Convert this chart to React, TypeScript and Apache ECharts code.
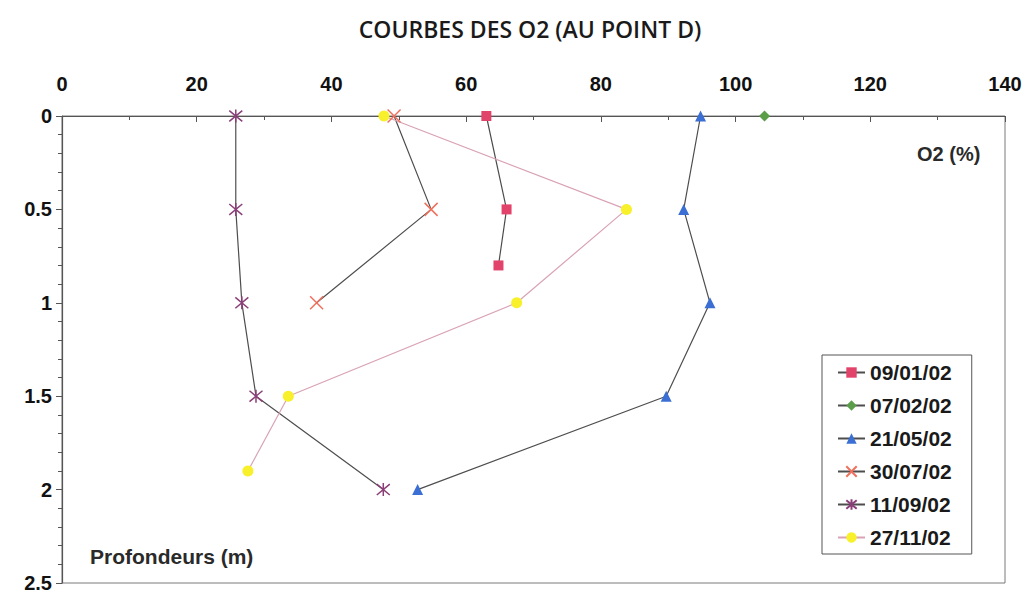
import React, { useEffect, useRef } from "react";
import * as echarts from "echarts";

// Depth profiles of dissolved oxygen (% saturation) at point D
const dates = ["09/01/02", "07/02/02", "21/05/02", "30/07/02", "11/09/02", "27/11/02"];

const depth0901 = [0, 0.5, 0.8];
const o2_0901 = [63, 66, 64.8];

const depth0702 = [0];
const o2_0702 = [104.3];

const depth2105 = [0, 0.5, 1, 1.5, 2];
const o2_2105 = [94.8, 92.3, 96.2, 89.7, 52.8];

const depth3007 = [0, 0.5, 1];
const o2_3007 = [49.3, 54.8, 37.8];

const depth1109 = [0, 0.5, 1, 1.5, 2];
const o2_1109 = [25.8, 25.8, 26.7, 28.8, 47.7];

const depth2711 = [0, 0.5, 1, 1.5, 1.9];
const o2_2711 = [47.8, 83.8, 67.5, 33.6, 27.6];

const xTicks = { min: 0, max: 140, interval: 20 };
const yTicks = { min: 0, max: 2.5, interval: 0.5 };

const pairs = (xs: number[], ys: number[]) => xs.map((x, i) => [x, ys[i]]);

const crossPath = "path://M0 0L10 10M10 0L0 10";
const starPath = "path://M0 0L10 10M10 0L0 10M5 -1L5 11";

export default function App() {
  const ref = useRef<HTMLDivElement>(null);

  useEffect(() => {
    if (!ref.current) return;
    const chart = echarts.init(ref.current, undefined, { renderer: "svg" });
    const darkLine = { color: "#4d4d4d", width: 1.2 };
    const labelFont = { fontFamily: "Liberation Sans", fontWeight: "bold" as const, fontSize: 20, color: "#111" };

    chart.setOption({
      animation: false,
      backgroundColor: "#ffffff",
      title: {
        text: "COURBES DES O2 (AU POINT D)",
        left: 525,
        top: 12,
        textAlign: "center",
        textStyle: {
          fontFamily: "Open Sans",
          fontWeight: 600,
          fontSize: 23,
          color: "#1a1a1a",
        },
      },
      grid: {
        left: 62,
        top: 116,
        right: 21,
        bottom: 8,
        show: true,
        borderColor: "#7a7a7a",
        borderWidth: 1,
        backgroundColor: "transparent",
      },
      legend: {
        orient: "vertical",
        left: 822,
        top: 355,
        padding: [7, 20, 6, 15],
        itemGap: 12,
        itemWidth: 27,
        itemHeight: 13,
        borderColor: "#555",
        borderWidth: 1,
        backgroundColor: "#fff",
        textStyle: { ...labelFont, fontSize: 21, color: "#1a1a1a" },
        data: dates,
      },
      xAxis: {
        type: "value",
        position: "top",
        min: xTicks.min,
        max: xTicks.max,
        interval: xTicks.interval,
        axisLine: { show: true, lineStyle: { color: "#555", width: 1.2 } },
        axisTick: { show: true, inside: true, length: 6, lineStyle: { color: "#555" } },
        minorTick: { show: true, splitNumber: 2, length: 4, lineStyle: { color: "#555" } },
        axisLabel: { ...labelFont, margin: 22 },
        splitLine: { show: false },
      },
      yAxis: {
        type: "value",
        inverse: true,
        min: yTicks.min,
        max: yTicks.max,
        interval: yTicks.interval,
        axisLine: { show: true, lineStyle: { color: "#555", width: 1.2 } },
        axisTick: { show: true, length: 6, lineStyle: { color: "#555" } },
        minorTick: { show: true, splitNumber: 5, length: 4, lineStyle: { color: "#555" } },
        axisLabel: { ...labelFont, margin: 10 },
        splitLine: { show: false },
      },
      graphic: [
        {
          type: "text",
          left: 917,
          top: 144,
          style: {
            text: "O2 (%)",
            fontFamily: "Liberation Sans",
            fontWeight: "bold",
            fontSize: 20,
            fill: "#2a2a2a",
          },
        },
        {
          type: "text",
          left: 90,
          top: 546,
          style: {
            text: "Profondeurs (m)",
            fontFamily: "Liberation Sans",
            fontWeight: "bold",
            fontSize: 21,
            fill: "#2a2a2a",
          },
        },
      ],
      series: [
        {
          name: dates[0],
          type: "line",
          data: pairs(o2_0901, depth0901),
          symbol: "rect",
          symbolSize: 10,
          itemStyle: { color: "#e2436a" },
          lineStyle: darkLine,
        },
        {
          name: dates[1],
          type: "line",
          data: pairs(o2_0702, depth0702),
          symbol: "diamond",
          symbolSize: 11,
          itemStyle: { color: "#5a9e4a" },
          lineStyle: darkLine,
        },
        {
          name: dates[2],
          type: "line",
          data: pairs(o2_2105, depth2105),
          symbol: "triangle",
          symbolSize: 11,
          itemStyle: { color: "#3b6fd4" },
          lineStyle: darkLine,
        },
        {
          name: dates[3],
          type: "line",
          data: pairs(o2_3007, depth3007),
          symbol: crossPath,
          symbolSize: 13,
          itemStyle: { color: "none", borderColor: "#f0705e", borderWidth: 1.5 },
          lineStyle: darkLine,
        },
        {
          name: dates[4],
          type: "line",
          data: pairs(o2_1109, depth1109),
          symbol: starPath,
          symbolSize: 13,
          itemStyle: { color: "none", borderColor: "#8a3f78", borderWidth: 1.5 },
          lineStyle: darkLine,
        },
        {
          name: dates[5],
          type: "line",
          data: pairs(o2_2711, depth2711),
          symbol: "circle",
          symbolSize: 11,
          itemStyle: { color: "#f7f02a" },
          lineStyle: { color: "#d9a3b4", width: 1.2 },
        },
      ],
    });
    return () => chart.dispose();
  }, []);

  return (
    <div
      ref={ref}
      style={{ position: "fixed", left: 0, top: 0, width: 1026, height: 593, background: "#fff" }}
    />
  );
}
